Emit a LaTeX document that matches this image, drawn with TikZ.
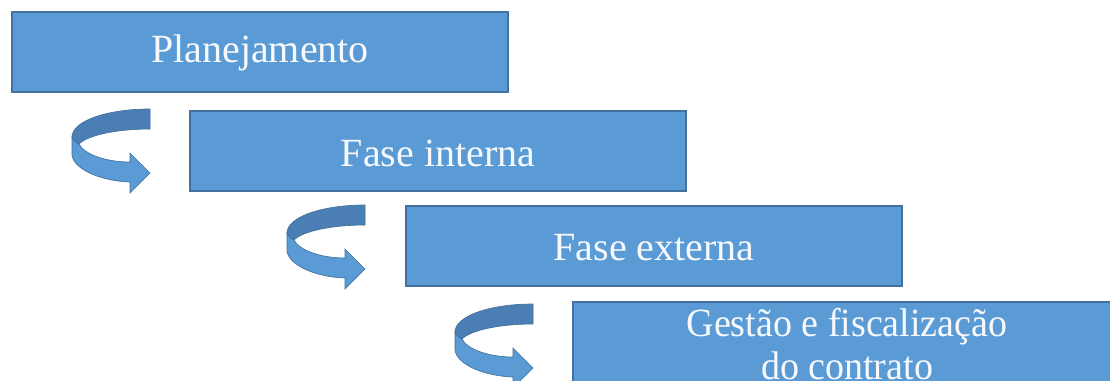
\documentclass[tikz,border=0pt]{standalone}
\usepackage{fontspec}
\setmainfont{Liberation Serif}
\definecolor{boxfill}{HTML}{5B9BD5}
\definecolor{boxline}{HTML}{41719C}
\definecolor{banddark}{HTML}{4A7EB5}
\definecolor{txt}{HTML}{F7F9FC}
\begin{document}
\begin{tikzpicture}[x=0.75pt,y=-0.75pt,
  stagebox/.style={draw=boxline,line width=0.8pt,fill=boxfill},
  stagetext/.style={text=txt,font=\fontsize{30}{32}\selectfont,align=center,inner sep=0pt},
  turnarrow/.pic={
    % dark back band
    \path[draw=boxline,line width=0.5pt,fill=banddark]
      (78,0) .. controls (35,0) and (0,12) .. (0,28)
      .. controls (1,31) and (4,34) .. (7,35)
      .. controls (16,26) and (45,20) .. (78,20) -- cycle;
    % light front band with head
    \path[draw=boxline,line width=0.5pt,fill=boxfill]
      (0,28) -- (0,46) .. controls (2,61) and (30,72) .. (58,73)
      -- (58,84) -- (78,64) -- (58,44) -- (58,53)
      .. controls (33,53) and (12,45) .. (7,35)
      .. controls (4,34) and (1,31) .. (0,28) -- cycle;
  }]
\useasboundingbox (0,0) rectangle (1110,380);
\clip (0,0) rectangle (1110,380);
\fill[white] (0,0) rectangle (1110,380);
\draw[stagebox] (12,12) rectangle (508,92);
\node[stagetext] (s1) at (260,53) {Planejamento};
\draw[stagebox] (190,111) rectangle (686,191);
\node[stagetext] (s2) at (438,153) {Fase interna};
\draw[stagebox] (406,206) rectangle (902,286);
\node[stagetext] (s3) at (654,248) {Fase externa};
\draw[stagebox] (573,302) rectangle (1125,390);
\node[stagetext,transform shape,xscale=0.95] (s4) at (847,344) {Gestão e fiscalização\\do contrato};
\pic at (72,109) {turnarrow};
\pic at (287,205) {turnarrow};
\pic at (455,304) {turnarrow};
\end{tikzpicture}
\end{document}
